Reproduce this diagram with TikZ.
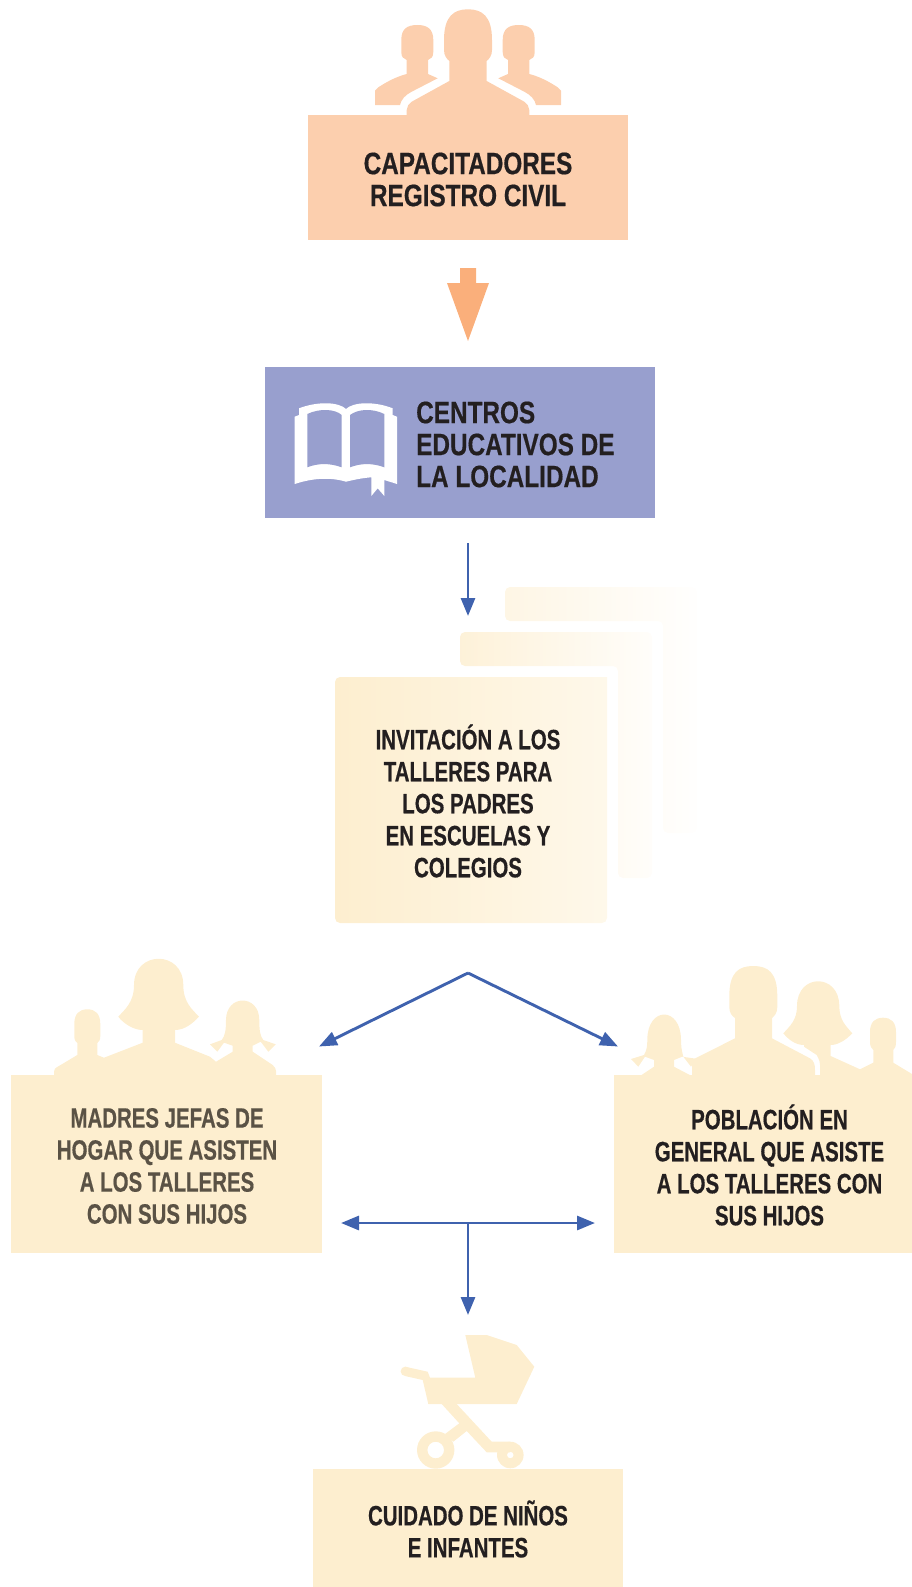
\documentclass[tikz,border=0pt]{standalone}
\usepackage{fontspec}
\setmainfont{Liberation Sans}
\newfontfamily\headfont{Liberation Sans}[FakeStretch=0.785,FakeBold=0.45]
\newfontfamily\bodyfont{Liberation Sans}[FakeStretch=0.73,FakeBold=0.45]
\usetikzlibrary{arrows.meta}
\definecolor{peach}{HTML}{FCCFAE}
\definecolor{peachdark}{HTML}{FAAF7B}
\definecolor{lilac}{HTML}{989FCE}
\definecolor{arrowblue}{HTML}{3F62AE}
\definecolor{cream}{HTML}{FDEECF}
\definecolor{creamfade}{HTML}{FEF8EA}
\definecolor{ink}{HTML}{231F20}
\definecolor{inksoft}{HTML}{5A5245}
\tikzset{
  flowbox/.style={draw=none,inner sep=0pt,outer sep=0pt,minimum width=#1},
  headlab/.style={font=\headfont\bfseries\fontsize{31}{32}\selectfont,text=ink,align=center,inner sep=0pt},
  lab/.style={font=\bodyfont\bfseries\fontsize{28}{32}\selectfont,text=ink,align=center,inner sep=0pt},
  flowarrow/.style={draw=arrowblue,line width=2.9pt,-{Triangle[length=18pt,width=14pt]}},
  bothway/.style={draw=arrowblue,line width=2.9pt,{Triangle[length=18pt,width=14pt]}-{Triangle[length=18pt,width=14pt]}},
  x=1pt,y=-1pt
}
\begin{document}
\begin{tikzpicture}
\useasboundingbox (0,0) rectangle (912,1587);
% --- top people
\fill[peach] (444,40) .. controls (444,16) and (454,9.3) .. (468,9.3) .. controls (482,9.3) and (492,16) .. (492,40) -- (492,50) .. controls (492,56) and (489,59) .. (486.7,61) -- (449.3,61) .. controls (447,59) and (444,56) .. (444,50) -- cycle;
\fill[peach] (449.3,50) -- (486.7,50) -- (486.7,81) -- (524.3,101.7) .. controls (527,103.5) and (529.3,106.5) .. (529.3,110) -- (529.3,116) -- (406.7,116) -- (406.7,110) .. controls (406.7,106.5) and (409,103.5) .. (411.7,101.7) -- (449.3,81) -- cycle;
\foreach \s/\o in {1/0,-1/936}{
\begin{scope}[xscale=\s,xshift=\s*\o]
\fill[peach] (401.3,40) .. controls (401.3,29) and (407,25) .. (417.3,25) .. controls (427.6,25) and (433.3,29) .. (433.3,40) -- (433.3,52) .. controls (433.3,57) and (431,59) .. (428,60) -- (406.7,60) .. controls (403.6,59) and (401.3,57) .. (401.3,52) -- cycle;
\fill[peach] (406.7,52) -- (428,52) -- (428,74) -- (437.7,78.3) -- (411.7,91.7) .. controls (405,95) and (401,100) .. (400,105) -- (375,105) -- (375,90.7) -- (378.3,87.3) .. controls (388,81) and (397,76.5) .. (406.7,74) -- cycle;
\end{scope}}
\node[flowbox=320pt,minimum height=124.5pt,fill=peach,anchor=north west] (capac) at (308,115) {};
\node[headlab] (capact) at (468,179.5) {CAPACITADORES\\REGISTRO CIVIL};
% --- thick arrow
\coordinate (thickTop) at (468,268);
\coordinate (thickTip) at (468,341);
\fill[peachdark] (thickTop) ++(-8,0) -- ++(16,0) -- ++(0,15) -- ++(13,0) -- (thickTip) -- (447,283) -- (460,283) -- cycle;
% --- centres
\node[flowbox=390pt,minimum height=151pt,fill=lilac,anchor=north west] (centros) at (265,367) {};
\node[headlab,align=left,anchor=west] (centrost) at (416,444.5) {CENTROS\\EDUCATIVOS DE\\LA LOCALIDAD};
\fill[white] (294.7,416.7) -- (299,415) -- (299,408.3) .. controls (318,401) and (339,402) .. (346,409) .. controls (353,402) and (374,401) .. (392.7,408.3) -- (392.7,415) -- (397,416.7) -- (397,484) .. controls (391,482) and (387,481) .. (384.3,480) -- (384.3,496) -- (377.7,488.3) -- (371.3,496) -- (371.3,477.3) .. controls (362,478) and (353,480) .. (346,481.7) .. controls (330,477) and (313,478) .. (294.7,484) -- cycle;
\fill[lilac] (307.3,414) .. controls (320,408) and (335,409) .. (341.7,415) -- (341.7,467.3) .. controls (330,463) and (318,463) .. (307.3,467.3) -- cycle;
\fill[lilac] (350,415) .. controls (358,409) and (372,408) .. (384.3,414) -- (384.3,467.3) .. controls (373,463) and (361,463) .. (350,467.3) -- cycle;
% --- invitation stack
\shade[left color=cream!55!white,right color=cream!3!white,rounded corners=5pt] (505,587) -- (697,587) -- (697,833) -- (663,833) -- (663,621) -- (505,621) -- cycle;
\shade[left color=cream!80!white,right color=cream!10!white,rounded corners=5pt] (460,632) -- (652,632) -- (652,878) -- (618,878) -- (618,666) -- (460,666) -- cycle;
\shade[left color=cream,right color=creamfade,rounded corners=5pt] (335,677) {[sharp corners] -- (607,677)} -- (607,923) -- (335,923) -- cycle;
\node[lab] (invit) at (468,801) {INVITACIÓN A LOS\\TALLERES PARA\\LOS PADRES\\EN ESCUELAS Y\\COLEGIOS};
\coordinate (toInvitTop) at (468,543);
\coordinate (toInvitTip) at (468,616);
\draw[flowarrow] (toInvitTop) -- (toInvitTip);
% --- left family
\fill[cream] (104,1076) -- (104,1057.7) -- (142.7,1042.7) -- (142.7,1030) .. controls (133,1030) and (123,1023) .. (118.3,1016.7) .. controls (124,1010) and (134,1003) .. (134,985) .. controls (134,950) and (183.3,950) .. (183.3,985) .. controls (183.3,1003) and (193,1010) .. (199,1016.7) .. controls (193,1023) and (185,1030) .. (175,1030) -- (175,1042.7) -- (210,1056.7) -- (216,1061.7) -- (232.7,1051.7) -- (232.7,1045.7) -- (224,1042.7) -- (217.3,1051.7) -- (210,1044.3) -- (221.7,1040) .. controls (225,1036) and (226,1030) .. (226,1020) .. controls (226,994) and (259.3,994) .. (259.3,1020) .. controls (259.3,1030) and (260,1036) .. (263.3,1040) -- (275.7,1044.3) -- (268.3,1051.7) -- (260.7,1041.7) -- (252.7,1045.7) -- (252.7,1051.7) -- (272.7,1065) .. controls (275,1067) and (276,1069) .. (276,1071) -- (276,1076) -- cycle;
\fill[cream] (74.3,1024) .. controls (74.3,1014) and (79,1009.3) .. (87.3,1009.3) .. controls (95.6,1009.3) and (100.3,1014) .. (100.3,1024) -- (100.3,1036) .. controls (100.3,1040) and (99,1042) .. (97.3,1043) -- (97.3,1055) -- (104,1057.7) -- (104,1076) -- (54,1076) -- (54,1071.7) .. controls (54,1069) and (55.5,1068) .. (56.7,1067.3) -- (77.3,1055) -- (77.3,1043) .. controls (75.6,1042) and (74.3,1040) .. (74.3,1036) -- cycle;
\node[flowbox=311pt,minimum height=177.5pt,fill=cream,anchor=north west] (madres) at (11,1075) {};
\node[lab,text=inksoft] (madrest) at (167,1166) {MADRES JEFAS DE\\HOGAR QUE ASISTEN\\A LOS TALLERES\\CON SUS HIJOS};
% --- right family
\fill[cream] (640,1076) -- (654,1066.7) -- (654,1060) -- (645,1056.7) -- (638.3,1066.7) -- (631,1059) -- (644,1055) .. controls (647,1050) and (647.3,1045) .. (647.3,1040) .. controls (647.3,1006) and (681,1006) .. (681,1040) .. controls (681,1045) and (681.5,1050) .. (683.3,1056.7) -- (691,1066.7) -- (696,1058.7) -- (682.3,1056.7) -- (674,1060) -- (674,1066.7) -- (691.7,1076) -- cycle;
\fill[cream] (729.3,996) .. controls (729.3,972) and (739,966) .. (753.3,966) .. controls (767.6,966) and (777.3,972) .. (777.3,996) -- (777.3,1007) .. controls (777.3,1013) and (774.5,1016) .. (772,1018) -- (735,1018) .. controls (732,1016) and (729.3,1013) .. (729.3,1007) -- cycle;
\fill[cream] (735,1005) -- (772,1005) -- (772,1038.3) -- (810,1058.3) .. controls (814,1061) and (815,1064) .. (815,1070) -- (815,1076) -- (692,1076) -- (692,1060) -- (735,1038.3) -- cycle;
\fill[cream] (820,1076) -- (820,1065) .. controls (820,1060) and (817,1056) .. (816.7,1055) -- (804,1046.7) -- (804,1045) .. controls (795,1045) and (788,1039) .. (783.3,1033.3) .. controls (790,1026) and (797,1020) .. (797,1006) .. controls (797,973) and (839.3,973) .. (839.3,1006) .. controls (839.3,1020) and (846,1026) .. (852.3,1033.3) .. controls (846,1040) and (838,1045) .. (830.7,1045) -- (830.7,1056) -- (860,1069.3) -- (860,1076) -- cycle;
\fill[cream] (860,1076) -- (860,1069.3) -- (873.3,1062.7) -- (873.3,1050) .. controls (871.5,1049) and (870,1046) .. (870,1042) -- (870,1032) .. controls (870,1022) and (875,1017.7) .. (883,1017.7) .. controls (891,1017.7) and (896,1022) .. (896,1032) -- (896,1042) .. controls (896,1046) and (895,1049) .. (893.3,1050) -- (893.3,1062.7) -- (912,1074) -- (912,1076) -- cycle;
\node[flowbox=298pt,minimum height=177.5pt,fill=cream,anchor=north west] (poblacion) at (614,1075) {};
\node[lab] (poblaciont) at (769.5,1165) {POBLACIÓN EN\\GENERAL QUE ASISTE\\A LOS TALLERES CON\\SUS HIJOS};
% --- split arrows
\coordinate (apex) at (468,973);
\coordinate (apexL) at (319,1046.5);
\coordinate (apexR) at (618,1046.5);
\draw[flowarrow] (apex) -- (apexL);
\draw[flowarrow] (apex) -- (apexR);
% --- cross arrows
\coordinate (crossL) at (341,1223);
\coordinate (crossR) at (595,1223);
\coordinate (crossM) at (468,1223);
\coordinate (crossTip) at (468,1315);
\draw[bothway] (crossL) -- (crossR);
\draw[flowarrow] (crossM) -- (crossTip);
% --- stroller
\fill[cream] (465.3,1335) -- (486.7,1335) -- (516.7,1345) -- (534.3,1366.7) -- (516.7,1404) -- (428.3,1404) -- (422.7,1380) -- (405,1376) -- (405.3,1366.7) -- (427.7,1371.7) -- (430,1377.7) -- (475.3,1377.7) -- cycle;
\fill[cream] (405.3,1371.3) circle (4.7pt);
\fill[cream] (441.7,1404) -- (456.7,1404) -- (491.7,1441.7) -- (510,1441.7) -- (510,1452.3) -- (486.7,1452.3) -- (466.7,1431) -- (453.3,1441.7) -- (445,1434) -- (459.3,1423.3) -- cycle;
\fill[cream,even odd rule] (435.7,1450) circle (18.7pt) (435.7,1450) circle (8.3pt);
\fill[cream,even odd rule] (510.3,1455) circle (13.3pt) (510.3,1455) circle (3.3pt);
\node[flowbox=310pt,minimum height=118pt,fill=cream,anchor=north west] (cuidado) at (313,1469) {};
\node[lab] (cuidadot) at (468,1529) {CUIDADO DE NIÑOS\\E INFANTES};
\end{tikzpicture}
\end{document}
